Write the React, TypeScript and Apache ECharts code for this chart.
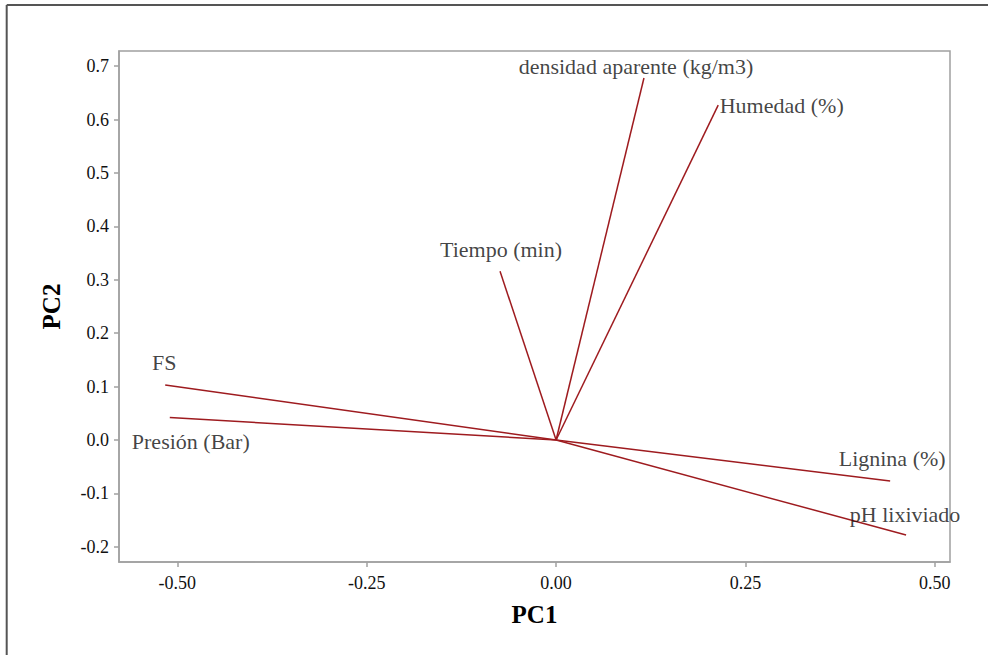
import React, { useEffect, useRef } from "react";
import * as echarts from "echarts";

const variables = [
  "densidad aparente (kg/m3)",
  "Humedad (%)",
  "Tiempo (min)",
  "FS",
  "Presión (Bar)",
  "Lignina (%)",
  "pH lixiviado",
];
const pc1Loadings = [0.116, 0.214, -0.074, -0.516, -0.51, 0.441, 0.462];
const pc2Loadings = [0.678, 0.627, 0.316, 0.103, 0.042, -0.077, -0.178];
const xTicks = [-0.5, -0.25, 0, 0.25, 0.5];
const yTicks = [-0.2, -0.1, 0, 0.1, 0.2, 0.3, 0.4, 0.5, 0.6, 0.7];

// label placement (style only)
const labelPlacement: { align: string; offset: [number, number] }[] = [
  { align: "center", offset: [-8, -11] },
  { align: "left", offset: [1.5, 0] },
  { align: "center", offset: [1, -22] },
  { align: "center", offset: [-1, -22] },
  { align: "center", offset: [21, 24] },
  { align: "center", offset: [2, -23] },
  { align: "center", offset: [-1, -21] },
];

const FONT = "Liberation Serif";
const VEC = "#9E1B1F";
const FRAME = "#A0A0A0";

export default function App() {
  const ref = useRef<HTMLDivElement>(null);
  useEffect(() => {
    if (!ref.current) return;
    const chart = echarts.init(ref.current, null, { renderer: "svg" });
    const axisCommon = {
      type: "value",
      axisLine: { show: true, onZero: false, lineStyle: { color: FRAME, width: 1.5 } },
      axisTick: { show: true, length: 5, lineStyle: { color: FRAME, width: 1.5 } },
      splitLine: { show: false },
      nameLocation: "middle",
      nameTextStyle: { fontFamily: FONT, fontSize: 25, fontWeight: "bold", color: "#000" },
    };
    chart.setOption({
      animation: false,
      backgroundColor: "#fff",
      textStyle: { fontFamily: FONT },
      grid: {
        left: 119,
        right: 38,
        top: 51,
        bottom: 93,
        show: true,
        borderColor: FRAME,
        borderWidth: 1.5,
      },
      xAxis: {
        ...axisCommon,
        min: -0.577,
        max: 0.52,
        name: "PC1",
        nameGap: 40,
        axisTick: { ...axisCommon.axisTick, customValues: xTicks },
        axisLabel: {
          customValues: xTicks,
          formatter: (v: number) => v.toFixed(2),
          fontFamily: FONT,
          fontSize: 18,
          color: "#111",
          margin: 12,
        },
      },
      yAxis: {
        ...axisCommon,
        min: -0.2285,
        max: 0.7285,
        name: "PC2",
        nameGap: 55,
        axisTick: { ...axisCommon.axisTick, customValues: yTicks },
        axisLabel: {
          customValues: yTicks,
          formatter: (v: number) => v.toFixed(1),
          fontFamily: FONT,
          fontSize: 18,
          color: "#111",
          margin: 10,
        },
      },
      series: [
        {
          type: "lines",
          coordinateSystem: "cartesian2d",
          symbol: ["none", "none"],
          lineStyle: { color: VEC, width: 1.5, opacity: 1 },
          data: variables.map((_, i) => ({
            coords: [
              [0, 0],
              [pc1Loadings[i], pc2Loadings[i]],
            ],
          })),
        },
        {
          type: "scatter",
          symbolSize: 0,
          itemStyle: { color: "transparent" },
          label: { show: true, fontFamily: FONT, fontSize: 22, color: "#111" },
          data: variables.map((n, i) => ({
            name: n,
            value: [pc1Loadings[i], pc2Loadings[i]],
            label: {
              show: true,
              formatter: n,
              position: "inside",
              align: labelPlacement[i].align,
              verticalAlign: "middle",
              offset: labelPlacement[i].offset,
              fontFamily: FONT,
              fontSize: 22,
              color: "#111",
            },
          })),
        },
      ],
      graphic: [
        {
          type: "line",
          shape: { x1: 6.7, y1: 5, x2: 6.7, y2: 655 },
          style: { stroke: "#555", lineWidth: 2 },
        },
        {
          type: "line",
          shape: { x1: 6.7, y1: 5, x2: 988, y2: 5 },
          style: { stroke: "#555", lineWidth: 2 },
        },
      ],
    });
    return () => chart.dispose();
  }, []);
  return (
    <div
      ref={ref}
      style={{ position: "fixed", left: 0, top: 0, width: 988, height: 655 }}
    />
  );
}
